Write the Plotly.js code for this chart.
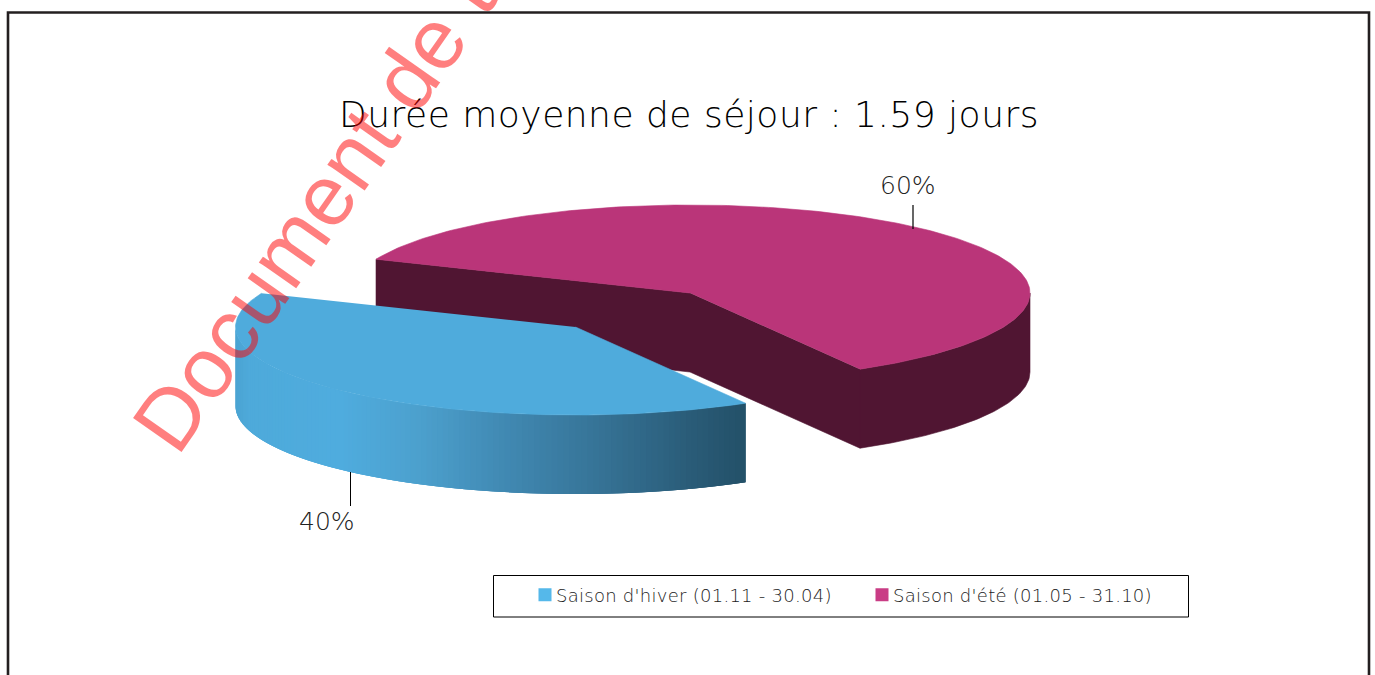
<!DOCTYPE html>
<html>
<head>
<meta charset="utf-8">
<script src="https://cdn.plot.ly/plotly-3.0.1.min.js"></script>
<style>html,body{margin:0;padding:0;background:#fff;overflow:hidden}#chart{width:1375px;height:675px}
.legendtext{transform:translateX(-9px);letter-spacing:0.27px}
.gtitle{letter-spacing:0.5px}
</style>
</head>
<body>
<div id="chart"></div>
<script>
const categories = ["Saison d'hiver (01.11 - 30.04)", "Saison d'été (01.05 - 31.10)"];
const shares = [39.6, 60.4];
const shareLabels = ["40%", "60%"];
const chartTitle = "Durée moyenne de séjour : 1.59 jours";
const watermark = "Document de t";

const topColors = ["#4fabdc", "#ba3579"];
const legendColors = ["#55b8ea", "#c93c85"];
const darkWall = "#501532";
const gradStops = [[235,[75,163,210]],[250,[78,170,218]],[340,[79,172,222]],[420,[76,160,205]],[500,[65,138,180]],[600,[54,115,150]],[690,[42,92,120]],[746,[35,80,104]]];

const RX = 340, RY = 88, DEPTH = 79, START = -60;
const winter = {cx:575.5, cy:327};
const summer = {cx:690, cy:293};

function pt(c, deg, dz){ const r = deg*Math.PI/180; return [c.cx+RX*Math.cos(r), c.cy-RY*Math.sin(r)+(dz||0)]; }
function arc(c, a0, a1, dz){ const n = Math.max(2,Math.ceil(Math.abs(a1-a0))); const o=[]; for(let i=0;i<=n;i++) o.push(pt(c,a0+(a1-a0)*i/n,dz)); return o; }
function poly(points, color, name, w){
  return {type:"scatter", mode:"lines", fill:"toself", fillcolor:color, x:points.map(p=>p[0]), y:points.map(p=>p[1]),
          line:{color:color, width:w===undefined?0.6:w}, hoverinfo:"skip", showlegend:false, name:name||""};
}
function gradAt(x){
  for(let i=1;i<gradStops.length;i++){ if(x<=gradStops[i][0]){ const a=gradStops[i-1],b=gradStops[i],f=(x-a[0])/(b[0]-a[0]);
    return "rgb("+a[1].map((v,k)=>Math.round(v+(b[1][k]-v)*f)).join(",")+")"; } }
  return "rgb("+gradStops[gradStops.length-1][1].join(",")+")";
}

const sweepSummer = shares[1]/100*360;
const sweepWinter = shares[0]/100*360;
const a0 = START, a1 = START+sweepSummer, a2 = a1+sweepWinter;
const traces = [];

// summer slice: walls, then top
traces.push(poly(arc(summer,a0,0,0).concat(arc(summer,0,a0,DEPTH)), darkWall));
const sApex=[summer.cx,summer.cy];
const sA=pt(summer,a1), sB=pt(summer,a0);
traces.push(poly([sA,sApex,sB,[sB[0],sB[1]+DEPTH],[sApex[0],sApex[1]+DEPTH],[sA[0],sA[1]+DEPTH],sA], darkWall));
traces.push(poly(arc(summer,a0,a1).concat([sApex]), topColors[1], categories[1]));

// winter slice: overlapping gradient wall strips, then top
const STEP = 1;
for(let t=180;t<a2;t+=STEP){
  const e=Math.min(t+STEP*3,a2);
  const p=arc(winter,t,e,0).concat(arc(winter,e,t,DEPTH));
  traces.push(poly(p, gradAt(pt(winter,t+STEP/2)[0]), "", 0));
}
traces.push(poly(arc(winter,a1,a2).concat([[winter.cx,winter.cy]]), topColors[0], categories[0]));

// legend entries
categories.forEach((c,i)=>traces.push({type:"scatter",mode:"markers",x:[null],y:[null],name:c,
  marker:{symbol:"square",size:13,color:legendColors[i]},hoverinfo:"skip",showlegend:true}));

const FONT = "'DejaVu Sans', Inter, sans-serif";
const layout = {
  width:1375,height:675,margin:{l:0,r:0,t:0,b:0},paper_bgcolor:"#fff",plot_bgcolor:"#fff",
  title:{text:chartTitle,x:689/1375,xanchor:"center",xref:"paper",y:1-114/675,yanchor:"middle",yref:"paper",
         font:{family:FONT,size:36,weight:200,color:"#000"}},
  xaxis:{range:[0,1375],visible:false,fixedrange:true},
  yaxis:{range:[675,0],visible:false,fixedrange:true},
  showlegend:true,
  legend:{orientation:"h",x:525/1375,y:1-595/675,xanchor:"left",yanchor:"middle",bgcolor:"rgba(0,0,0,0)",borderwidth:0,
          font:{family:FONT,size:18,weight:200,color:"#222"},entrywidth:292,entrywidthmode:"pixels",traceorder:"normal"},
  shapes:[
    {type:"rect",x0:8,x1:1369,y0:12.5,y1:720,line:{color:"#231f20",width:2.6},layer:"below"},
    {type:"rect",x0:493.5,x1:1188.5,y0:575.5,y1:617,line:{color:"#000",width:1},layer:"below"},
    {type:"line",x0:913,x1:913,y0:205,y1:229,line:{color:"#000",width:1.2},layer:"above"},
    {type:"line",x0:350.5,x1:350.5,y0:472,y1:506,line:{color:"#000",width:1},layer:"above"}
  ],
  annotations:[
    {text:shareLabels[1],x:908,y:185,xref:"x",yref:"y",showarrow:false,font:{family:FONT,size:25,weight:200,color:"#222"}},
    {text:shareLabels[0],x:327,y:521,xref:"x",yref:"y",showarrow:false,font:{family:FONT,size:25,weight:200,color:"#222"}},
    {text:watermark,x:313,y:212,xref:"x",yref:"y",textangle:-55,showarrow:false,xanchor:"center",yanchor:"middle",
     font:{family:"Liberation Sans, Arial, sans-serif",size:86,color:"rgba(255,0,0,0.5)"}}
  ]
};
Plotly.newPlot("chart",traces,layout,{displayModeBar:false,staticPlot:true});
</script>
</body>
</html>
